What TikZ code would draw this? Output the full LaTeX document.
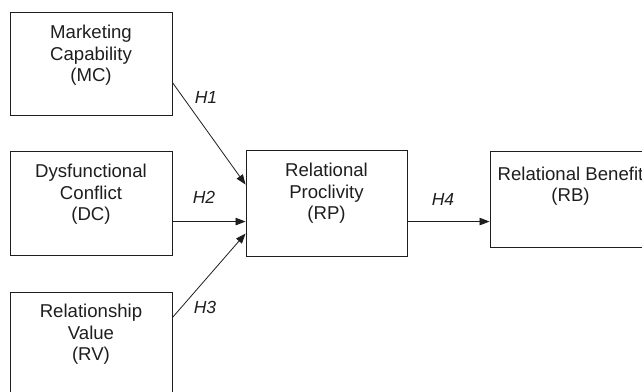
\documentclass[tikz,border=0pt]{standalone}
\usepackage{fontspec}
\setmainfont{Liberation Sans}
\usetikzlibrary{arrows.meta}
\definecolor{ink}{HTML}{1E1E1E}
\tikzset{
  box/.style={draw=ink, line width=0.9pt, minimum width=162pt, inner sep=0pt},
  boxtext/.style={anchor=north, inner sep=0pt, align=center, text=ink,
    font=\fontsize{18.6}{21.5}\selectfont},
  hyp/.style={inner sep=0pt, text=ink, font=\fontsize{17.5}{20}\selectfont\itshape},
  link/.style={draw=ink, line width=0.8pt, -{Triangle[length=10pt,width=7.5pt]}}
}
\begin{document}
\begin{tikzpicture}[x=1pt,y=-1pt]
\useasboundingbox (0,0) rectangle (642,391);
\clip (0,0) rectangle (642,391);
% boxes
\node[box, minimum height=103pt] (mc) at (91,63.5) {};
\node[box, minimum height=104pt] (dc) at (91,203) {};
\node[box, minimum height=104pt] (rv) at (91,344) {};
\node[box, minimum width=161pt, minimum height=106pt] (rp) at (326.5,203) {};
\node[box, minimum width=161pt, minimum height=96pt] (rb) at (570.5,199) {};
% texts
\node[boxtext] (mct) at ([yshift=-13.5pt]mc.north) {Marketing\\Capability\\(MC)};
\node[boxtext] (dct) at ([yshift=-13.5pt]dc.north) {Dysfunctional\\Conflict\\(DC)};
\node[boxtext] (rvt) at ([yshift=-12.5pt]rv.north) {Relationship\\Value\\(RV)};
\node[boxtext] (rpt) at ([yshift=-13.5pt]rp.north) {Relational\\Proclivity\\(RP)};
\node[boxtext] (rbt) at ([yshift=-16pt]rb.north) {Relational Benefit\\(RB)};
% connectors
\draw[link] ([yshift=-71pt]mc.north east) -- ([yshift=-35pt]rp.north west);
\draw[link] ([yshift=-71pt]dc.north east) -- ([yshift=-72pt]rp.north west);
\draw[link] ([yshift=-26pt]rv.north east) -- ([yshift=-84pt]rp.north west);
\draw[link] ([yshift=-72pt]rp.north east) -- ([yshift=-71pt]rb.north west);
% hypothesis labels
\node[hyp] (h1) at (206,97) {H1};
\node[hyp] (h2) at (204,197) {H2};
\node[hyp] (h3) at (205,307) {H3};
\node[hyp] (h4) at (443,199) {H4};
\end{tikzpicture}
\end{document}
